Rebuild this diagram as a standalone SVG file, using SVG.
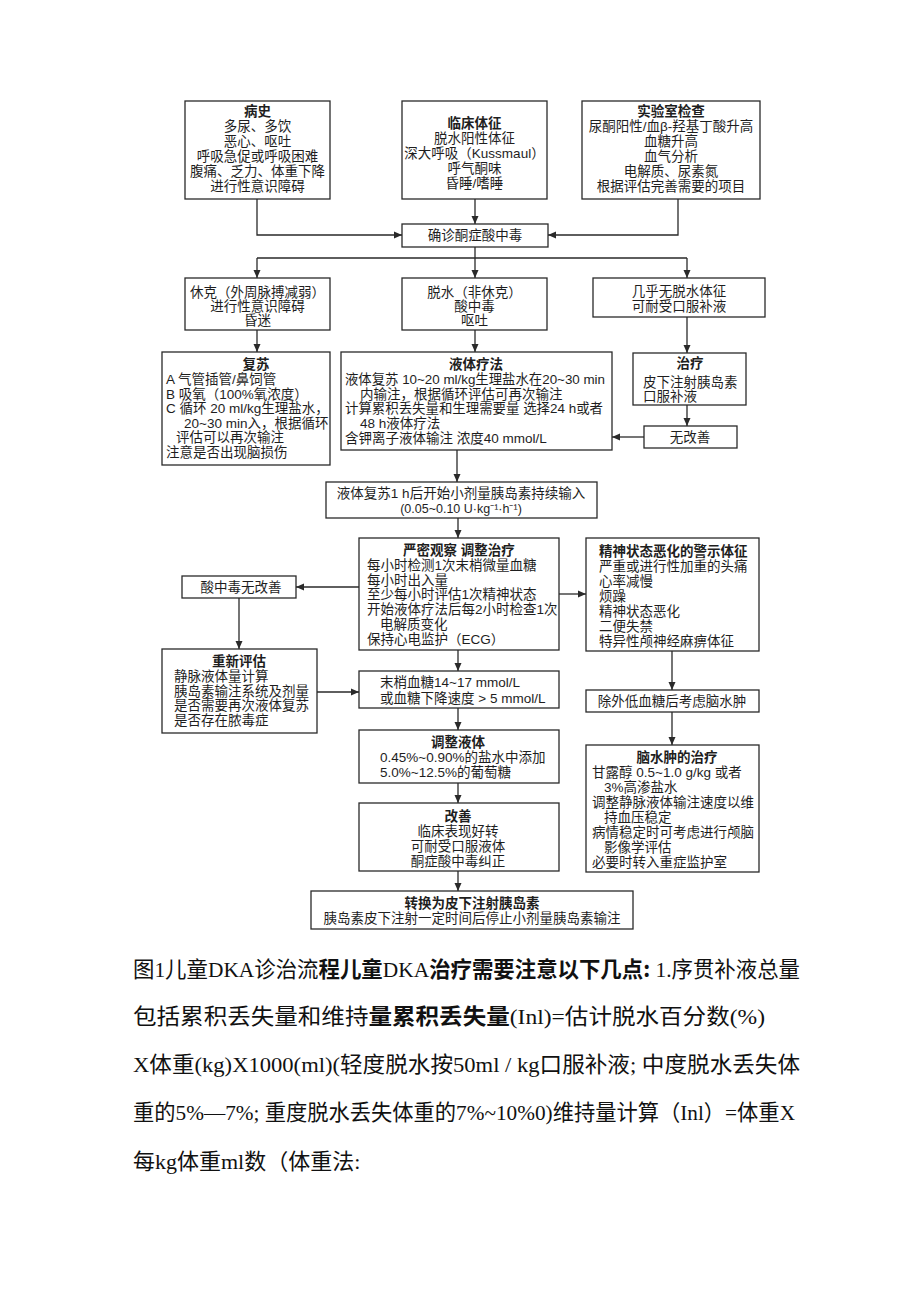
<svg xmlns="http://www.w3.org/2000/svg" width="920" height="1301" viewBox="0 0 920 1301">
<defs>
<marker id="a" markerWidth="8" markerHeight="8" viewBox="0 0 8 8" refX="8" refY="4" orient="auto" markerUnits="userSpaceOnUse"><path d="M0,0.5 L8,4 L0,7.5 Z" fill="#2a2a2a"/></marker>
<style>
.b{fill:#fff;stroke:#2a2a2a;stroke-width:1.3}
.c{fill:none;stroke:#2a2a2a;stroke-width:1.3;marker-end:url(#a)}
.l{fill:none;stroke:#2a2a2a;stroke-width:1.3}
text{font-family:"Liberation Sans","Noto Sans CJK SC","Noto Sans CJK JP",sans-serif;font-size:13.5px;fill:#1e1e1e}
.t{font-weight:700}
.m{text-anchor:middle}
.p{font-family:"Liberation Serif","Noto Sans CJK SC",serif;font-size:22px;fill:#111}
.p .k{font-family:"Noto Sans CJK SC",sans-serif;font-weight:700}
</style>
</defs>
<rect width="920" height="1301" fill="#fff"/>

<g id="connectors">
<path class="c" d="M257,199 V235 H402"/>
<path class="c" d="M475,199 V224"/>
<path class="c" d="M678,199 V235 H548"/>
<path class="l" d="M475,247 V258 M257,258 H687"/>
<path class="c" d="M257,258 V278"/>
<path class="c" d="M475,258 V278"/>
<path class="c" d="M687,258 V278"/>
<path class="c" d="M257,330 V352"/>
<path class="c" d="M475,330 V352"/>
<path class="c" d="M687,317 V353"/>
<path class="c" d="M687,405 V426"/>
<path class="c" d="M644,437 H612"/>
<path class="c" d="M457,450 V482"/>
<path class="c" d="M458,518 V538"/>
<path class="c" d="M359,587 H296"/>
<path class="c" d="M239,598 V649"/>
<path class="c" d="M317,692 H359"/>
<path class="c" d="M559,594 H586"/>
<path class="c" d="M672,651 V690"/>
<path class="c" d="M672,712 V745"/>
<path class="c" d="M458,650 V671"/>
<path class="c" d="M458,708 V730"/>
<path class="c" d="M458,783 V803"/>
<path class="c" d="M458,871 V891"/>
</g>

<g id="history">
<rect class="b" x="185" y="101" width="145" height="98"/>
<text class="m"><tspan class="t" x="257.5" y="116">病史</tspan><tspan x="257.5" y="131">多尿、多饮</tspan><tspan x="257.5" y="146">恶心、呕吐</tspan><tspan x="257.5" y="161">呼吸急促或呼吸困难</tspan><tspan x="257.5" y="176">腹痛、乏力、体重下降</tspan><tspan x="257.5" y="191">进行性意识障碍</tspan></text>
</g>

<g id="signs">
<rect class="b" x="402" y="101" width="145" height="98"/>
<text class="m"><tspan class="t" x="474.5" y="128">临床体征</tspan><tspan x="474.5" y="143">脱水阳性体征</tspan><tspan x="474.5" y="158">深大呼吸（Kussmaul）</tspan><tspan x="474.5" y="173">呼气酮味</tspan><tspan x="474.5" y="188">昏睡/嗜睡</tspan></text>
</g>

<g id="lab">
<rect class="b" x="582" y="101" width="178" height="98"/>
<text class="m"><tspan class="t" x="671" y="116">实验室检查</tspan><tspan x="671" y="131">尿酮阳性/血β-羟基丁酸升高</tspan><tspan x="671" y="146">血糖升高</tspan><tspan x="671" y="161">血气分析</tspan><tspan x="671" y="176">电解质、尿素氮</tspan><tspan x="671" y="191">根据评估完善需要的项目</tspan></text>
</g>

<g id="diagnosis">
<rect class="b" x="402" y="224" width="146" height="23"/>
<text class="m" x="475" y="240">确诊酮症酸中毒</text>
</g>

<g id="shock">
<rect class="b" x="185" y="278" width="145" height="52"/>
<text class="m"><tspan x="257.5" y="297">休克（外周脉搏减弱）</tspan><tspan x="257.5" y="311">进行性意识障碍</tspan><tspan x="257.5" y="325">昏迷</tspan></text>
</g>

<g id="dehydration">
<rect class="b" x="402" y="278" width="145" height="52"/>
<text class="m"><tspan x="474.5" y="297">脱水（非休克）</tspan><tspan x="474.5" y="311">酸中毒</tspan><tspan x="474.5" y="325">呕吐</tspan></text>
</g>

<g id="nodehydration">
<rect class="b" x="593" y="278" width="172" height="39"/>
<text class="m"><tspan x="679" y="296">几乎无脱水体征</tspan><tspan x="679" y="311">可耐受口服补液</tspan></text>
</g>

<g id="resuscitation">
<rect class="b" x="162" y="352" width="168" height="113"/>
<text><tspan class="t m" x="256" y="369">复苏</tspan><tspan x="166" y="384">A 气管插管/鼻饲管</tspan><tspan x="166" y="398.5">B 吸氧（100%氧浓度）</tspan><tspan x="166" y="413">C 循环 20 ml/kg生理盐水，</tspan><tspan x="184" y="427.5">20~30 min入，根据循环</tspan><tspan x="176" y="442">评估可以再次输注</tspan><tspan x="166" y="456.5">注意是否出现脑损伤</tspan></text>
</g>

<g id="fluid">
<rect class="b" x="341" y="352" width="271" height="98"/>
<text><tspan class="t m" x="476" y="369">液体疗法</tspan><tspan x="345" y="384" textLength="260" lengthAdjust="spacingAndGlyphs">液体复苏 10~20 ml/kg生理盐水在20~30 min</tspan><tspan x="360" y="399">内输注，根据循环评估可再次输注</tspan><tspan x="345" y="413" textLength="258" lengthAdjust="spacingAndGlyphs">计算累积丢失量和生理需要量 选择24 h或者</tspan><tspan x="360" y="428">48 h液体疗法</tspan><tspan x="345" y="443">含钾离子液体输注 浓度40 mmol/L</tspan></text>
</g>

<g id="treatment">
<rect class="b" x="633" y="353" width="113" height="52"/>
<text><tspan class="t m" x="690" y="368">治疗</tspan><tspan x="643" y="387">皮下注射胰岛素</tspan><tspan x="643" y="401">口服补液</tspan></text>
</g>

<g id="noimprove1">
<rect class="b" x="644" y="426" width="93" height="22"/>
<text class="m" x="690" y="442">无改善</text>
</g>

<g id="insulin">
<rect class="b" x="326" y="482" width="271" height="36"/>
<text class="m"><tspan x="461" y="498">液体复苏1 h后开始小剂量胰岛素持续输入</tspan><tspan x="461" y="513" style="font-size:12.5px">(0.05~0.10 U·kg⁻¹·h⁻¹)</tspan></text>
</g>

<g id="observe">
<rect class="b" x="359" y="538" width="200" height="112"/>
<text><tspan class="t m" x="459" y="555">严密观察  调整治疗</tspan><tspan x="367" y="570">每小时检测1次末梢微量血糖</tspan><tspan x="367" y="584.5">每小时出入量</tspan><tspan x="367" y="599">至少每小时评估1次精神状态</tspan><tspan x="367" y="614">开始液体疗法后每2小时检查1次</tspan><tspan x="380" y="629">电解质变化</tspan><tspan x="367" y="644">保持心电监护（ECG）</tspan></text>
</g>

<g id="noimprove2">
<rect class="b" x="182" y="576" width="114" height="22"/>
<text class="m" x="241" y="592">酸中毒无改善</text>
</g>

<g id="reassess">
<rect class="b" x="162" y="649" width="155" height="84"/>
<text><tspan class="t m" x="239" y="666">重新评估</tspan><tspan x="174" y="681">静脉液体量计算</tspan><tspan x="174" y="696">胰岛素输注系统及剂量</tspan><tspan x="174" y="710">是否需要再次液体复苏</tspan><tspan x="174" y="725">是否存在脓毒症</tspan></text>
</g>

<g id="warning">
<rect class="b" x="586" y="538" width="173" height="113"/>
<text><tspan class="t" x="599" y="556">精神状态恶化的警示体征</tspan><tspan x="599" y="571">严重或进行性加重的头痛</tspan><tspan x="599" y="586">心率减慢</tspan><tspan x="599" y="601">烦躁</tspan><tspan x="599" y="616">精神状态恶化</tspan><tspan x="599" y="630.5">二便失禁</tspan><tspan x="599" y="645.5">特异性颅神经麻痹体征</tspan></text>
</g>

<g id="exclude">
<rect class="b" x="586" y="690" width="173" height="22"/>
<text class="m" x="672" y="706">除外低血糖后考虑脑水肿</text>
</g>

<g id="edema">
<rect class="b" x="586" y="745" width="173" height="127"/>
<text><tspan class="t m" x="677" y="762">脑水肿的治疗</tspan><tspan x="592" y="777">甘露醇 0.5~1.0 g/kg 或者</tspan><tspan x="604" y="792">3%高渗盐水</tspan><tspan x="592" y="807">调整静脉液体输注速度以维</tspan><tspan x="604" y="822">持血压稳定</tspan><tspan x="592" y="837">病情稳定时可考虑进行颅脑</tspan><tspan x="604" y="852">影像学评估</tspan><tspan x="592" y="867">必要时转入重症监护室</tspan></text>
</g>

<g id="glucose">
<rect class="b" x="359" y="671" width="200" height="37"/>
<text><tspan x="380" y="687">末梢血糖14~17 mmol/L</tspan><tspan x="380" y="703">或血糖下降速度 &gt; 5 mmol/L</tspan></text>
</g>

<g id="adjust">
<rect class="b" x="359" y="730" width="200" height="53"/>
<text><tspan class="t m" x="458" y="747">调整液体</tspan><tspan x="380" y="762">0.45%~0.90%的盐水中添加</tspan><tspan x="380" y="777">5.0%~12.5%的葡萄糖</tspan></text>
</g>

<g id="improve">
<rect class="b" x="359" y="803" width="200" height="68"/>
<text class="m"><tspan class="t" x="458" y="821">改善</tspan><tspan x="458" y="836">临床表现好转</tspan><tspan x="458" y="851">可耐受口服液体</tspan><tspan x="458" y="866">酮症酸中毒纠正</tspan></text>
</g>

<g id="switch">
<rect class="b" x="311" y="891" width="322" height="38"/>
<text class="m"><tspan class="t" x="472" y="908">转换为皮下注射胰岛素</tspan><tspan x="472" y="923">胰岛素皮下注射一定时间后停止小剂量胰岛素输注</tspan></text>
</g>

<g id="paragraph">
<text class="p" x="133" y="977" textLength="667" lengthAdjust="spacingAndGlyphs">图1儿童DKA诊治流<tspan class="k">程儿童</tspan>DKA<tspan class="k">治疗需要注意以下几点:</tspan> 1.序贯补液总量</text>
<text class="p" x="133" y="1024" textLength="632" lengthAdjust="spacingAndGlyphs">包括累积丢失量和维持<tspan class="k">量累积丢失量</tspan>(Inl)=估计脱水百分数(%)</text>
<text class="p" x="133" y="1072" textLength="667" lengthAdjust="spacingAndGlyphs">X体重(kg)X1000(ml)(轻度脱水按50ml / kg口服补液; 中度脱水丢失体</text>
<text class="p" x="133" y="1120" textLength="662" lengthAdjust="spacingAndGlyphs">重的5%—7%; 重度脱水丢失体重的7%~10%0)维持量计算（Inl）=体重X</text>
<text class="p" x="133" y="1169">每kg体重ml数（体重法:</text>
</g>
</svg>
